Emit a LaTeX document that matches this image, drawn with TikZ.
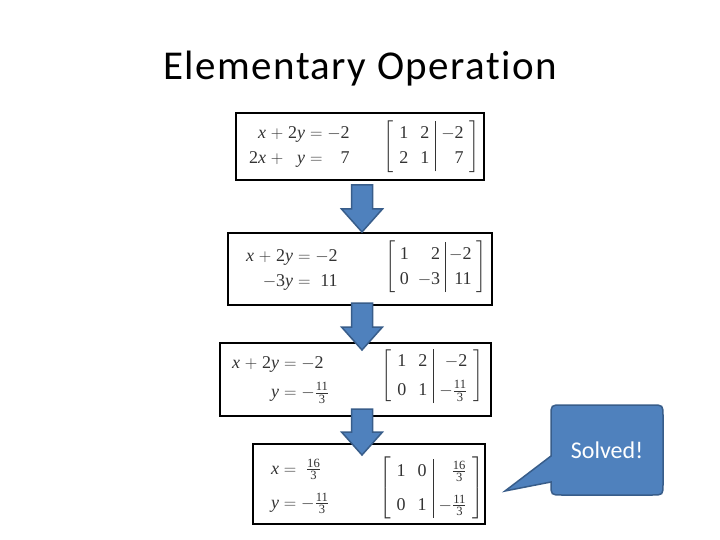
\documentclass[tikz,border=0pt]{standalone}
\usepackage{amsmath}
\usepackage{fontspec}
\setmainfont{Liberation Serif}
\newfontfamily\carlito{Carlito}
\newfontfamily\titlefont[LetterSpace=3.5,Ligatures={NoCommon}]{Carlito}
\usetikzlibrary{calc}
\definecolor{arrowfill}{HTML}{4F81BD}
\definecolor{arrowline}{HTML}{385D8A}
\definecolor{eqgray}{HTML}{333333}
\newcommand\vx{\textit{x}}
\newcommand\vy{\textit{y}}
\newcommand\tn[1]{\text{#1}}
\newcommand\pl{\mathrel{+}}
\newcommand\fr[2]{\tfrac{\tn{#1}}{\tn{#2}}}
\setlength\arraycolsep{6pt}
\newcommand\blockdown[2]{%
  \filldraw[blockarrow] let \p1=(#1), \p2=(#2) in
    (\x1-10.5pt,\y1) -- (\x1+10.5pt,\y1) -- (\x1+10.5pt,\y2+23pt) -- (\x1+20.5pt,\y2+23pt)
    -- (\x1,\y2) -- (\x1-20.5pt,\y2+23pt) -- (\x1-10.5pt,\y2+23pt) -- cycle;}
\begin{document}
\begin{tikzpicture}[x=1pt,y=-1pt,
  stepbox/.style={draw=black, line width=1.1pt, inner sep=0pt},
  eq/.style={text=eqgray, inner sep=0pt, font=\fontsize{18}{25}\selectfont},
  blockarrow/.style={fill=arrowfill, draw=arrowline, line width=1.5pt, line join=miter},
  callout/.style={fill=arrowfill, draw=arrowline, line width=1.5pt}]
\useasboundingbox (0,0) rectangle (720,540);
\fill[white] (0,0) rectangle (720,540);

\node[font=\titlefont\fontsize{41}{48}\selectfont, anchor=base] (title) at (360,80) {Elementary Operation};

% boxes
\node[stepbox, minimum width=248pt, minimum height=67pt] (b1) at (360,146.5) {};
\node[stepbox, minimum width=264pt, minimum height=72pt] (b2) at (360,269) {};
\node[stepbox, minimum width=271pt, minimum height=73pt] (b3) at (355.5,379.5) {};
\node[stepbox, minimum width=232pt, minimum height=80pt] (b4) at (369,484) {};

% box 1
\node[eq, anchor=west] (e1) at (249,146) {$\begin{array}{@{}r@{}c@{}r@{}c@{}r@{}}
 \vx & {}\pl{} & \tn{2}\vy & {}={} & -\tn{2}\\
 \tn{2}\vx & {}\pl{} & \vy & {}={} & \tn{7}\end{array}$};
\node[eq, anchor=west] (m1) at (383,146.5) {$\left[\begin{array}{cc|r}
 \tn{1} & \tn{2} & -\tn{2}\\ \tn{2} & \tn{1} & \tn{7}\end{array}\right]$};

% box 2
\node[eq, anchor=west] (e2) at (246,269) {$\begin{array}{@{}r@{}c@{}r@{}}
 \vx \pl \tn{2}\vy & {}={} & -\tn{2}\\
 -\tn{3}\vy & {}={} & \tn{11}\end{array}$};
\node[eq, anchor=west] (m2) at (385,267) {\setlength\arraycolsep{4.5pt}$\left[\begin{array}{cr|r}
 \tn{1} & \tn{2} & -\tn{2}\\ \tn{0} & -\tn{3} & \tn{11}\end{array}\right]$};

% box 3
\node[eq, anchor=west] (e3) at (232,378) {$\begin{array}{@{}r@{}c@{}l@{}}
 \vx \pl \tn{2}\vy & {}={} & -\tn{2}\\[4pt]
 \vy & {}={} & -\fr{11}{3}\end{array}$};
\node[eq, anchor=west] (m3) at (381,376) {$\left[\begin{array}{cc|r}
 \tn{1} & \tn{2} & -\tn{2}\\[4pt] \tn{0} & \tn{1} & -\fr{11}{3}\end{array}\right]$};

% box 4
\node[eq, anchor=west] (e4) at (271,486) {$\begin{array}{@{}r@{}c@{}l@{}}
 \vx & {}={} & \;\fr{16}{3}\\[9pt]
 \vy & {}={} & -\fr{11}{3}\end{array}$};
\node[eq, anchor=west] (m4) at (379,488) {$\left[\begin{array}{cc|r}
 \tn{1} & \tn{0} & \fr{16}{3}\\[9pt] \tn{0} & \tn{1} & -\fr{11}{3}\end{array}\right]$};

% block arrows
\coordinate (a1s) at (362,185);  \coordinate (a1t) at (362,232);
\coordinate (a2s) at (362,303);  \coordinate (a2t) at (362,350);
\coordinate (a3s) at (362,409);  \coordinate (a3t) at (362,455);
\blockdown{a1s}{a1t}
\blockdown{a2s}{a2t}
\blockdown{a3s}{a3t}

% callout
\filldraw[callout] (505,491) -- (551,456) -- (551,416) .. controls (551,405) .. (562,405)
  -- (652,405) .. controls (663,405) .. (663,416) -- (663,484) .. controls (663,495) .. (652,495)
  -- (562,495) .. controls (551,495) .. (551,484) -- (551,482) -- cycle;
\node[text=white, font=\carlito\fontsize{24}{28}\selectfont] (solved) at (607,450) {Solved!};
\end{tikzpicture}
\end{document}
